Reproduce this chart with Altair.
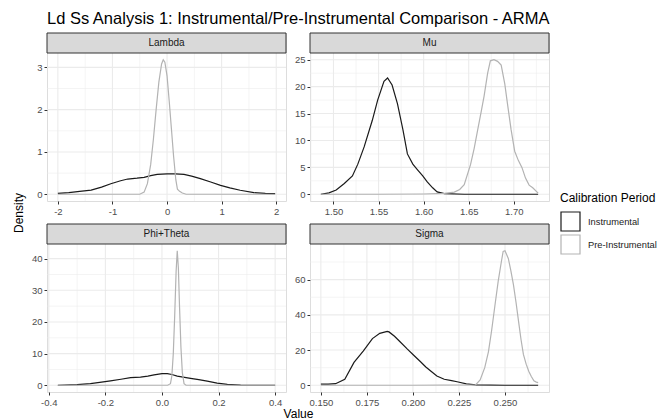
import altair as alt
import pandas as pd

# ---------------- data ----------------
# Lambda
lambda_inst_x = [-2.0, -1.8, -1.6, -1.39, -1.2, -1.03, -0.85, -0.72, -0.55, -0.42, -0.3, -0.18, 0.0, 0.15,
                 0.31, 0.45, 0.61, 0.8, 0.98, 1.15, 1.34, 1.59, 1.8, 1.98]
lambda_inst_y = [0.02, 0.04, 0.07, 0.1, 0.17, 0.25, 0.32, 0.36, 0.38, 0.40, 0.44, 0.47, 0.48, 0.48,
                 0.47, 0.43, 0.37, 0.29, 0.21, 0.15, 0.095, 0.04, 0.02, 0.016]
lambda_pre_x = [-2.0, -1.0, -0.5, -0.42, -0.36, -0.3, -0.25, -0.2, -0.15, -0.1, -0.07, -0.04, 0.0, 0.04,
                0.08, 0.12, 0.16, 0.19, 0.23, 0.28, 0.35, 1.0, 1.98]
lambda_pre_y = [0, 0, 0, 0.05, 0.25, 0.7, 1.3, 2.0, 2.65, 3.08, 3.18, 3.12, 2.8, 2.2,
                1.55, 0.9, 0.35, 0.12, 0.07, 0.03, 0, 0, 0]

# Mu
mu_inst_x = [1.486, 1.495, 1.503, 1.512, 1.521, 1.527, 1.534, 1.543, 1.549, 1.556, 1.560, 1.565, 1.571,
             1.577, 1.582, 1.588, 1.593, 1.599, 1.604, 1.610, 1.615, 1.623, 1.645, 1.700, 1.727]
mu_inst_y = [0.0, 0.25, 0.8, 2.0, 3.4, 5.6, 8.8, 13.7, 17.5, 21.0, 21.6, 20.3, 16.8,
             12.0, 7.5, 5.6, 4.6, 3.4, 2.3, 1.2, 0.45, 0.12, 0.0, 0.0, 0.0]
mu_pre_x = [1.486, 1.550, 1.600, 1.623, 1.634, 1.640, 1.645, 1.652, 1.656, 1.660, 1.664, 1.667, 1.671,
            1.674, 1.678, 1.682, 1.686, 1.690, 1.693, 1.697, 1.701, 1.705, 1.709, 1.713, 1.717, 1.721, 1.727]
mu_pre_y = [0, 0, 0.05, 0.15, 0.4, 0.9, 1.8, 5.5, 8.5, 12.0, 15.5, 18.2, 22.5,
            24.8, 25.0, 24.7, 24.0, 20.5, 16.8, 12.0, 8.0, 6.3, 5.0, 3.0, 1.7, 1.2, 0.2]

# Phi+Theta
phi_inst_x = [-0.368, -0.30, -0.253, -0.22, -0.182, -0.145, -0.111, -0.076, -0.05, -0.028, 0.0, 0.019,
              0.035, 0.054, 0.08, 0.101, 0.13, 0.160, 0.195, 0.231, 0.278, 0.34, 0.40]
phi_inst_y = [0.0, 0.2, 0.5, 0.9, 1.4, 1.9, 2.4, 2.6, 2.9, 3.3, 3.7, 3.7,
              3.4, 2.9, 2.5, 2.2, 1.8, 1.3, 0.7, 0.3, 0.05, 0.0, 0.0]
phi_pre_x = [-0.368, 0.0, 0.02, 0.03, 0.035, 0.04, 0.045, 0.05, 0.054, 0.058, 0.062, 0.067, 0.072,
             0.078, 0.085, 0.1, 0.4]
phi_pre_y = [0, 0, 0, 0.5, 3, 10, 22, 36, 42.5, 37, 25, 12, 4,
             0.5, 0, 0, 0]

# Sigma
sigma_inst_x = [0.150, 0.154, 0.158, 0.163, 0.168, 0.173, 0.178, 0.182, 0.186, 0.187, 0.190, 0.193,
                0.197, 0.200, 0.204, 0.207, 0.210, 0.213, 0.217, 0.221, 0.224, 0.229, 0.234, 0.250, 0.268]
sigma_inst_y = [0.6, 0.6, 0.9, 3.4, 13.0, 19.4, 26.5, 29.5, 30.6, 30.3, 27.8, 24.7,
                20.5, 17.5, 13.5, 10.4, 7.8, 5.3, 3.4, 2.6, 2.0, 0.8, 0.2, 0.0, 0.0]
sigma_pre_x = [0.150, 0.200, 0.234, 0.2365, 0.239, 0.241, 0.2427, 0.2445, 0.2463, 0.248, 0.249, 0.250,
               0.2518, 0.2532, 0.2546, 0.256, 0.2574, 0.2587, 0.260, 0.2615, 0.2629, 0.2643, 0.2657,
               0.267, 0.268]
sigma_pre_y = [0, 0, 0.2, 3, 10, 19, 30.8, 45, 59, 70, 76, 76.4,
               72, 65, 57, 47, 36, 26, 17.5, 12, 8, 5, 2.5, 1.8, 1.5]

periods = ["Instrumental", "Pre-Instrumental"]

# axis tick values
lambda_xticks = [-2, -1, 0, 1, 2]
lambda_yticks = [0, 1, 2, 3]
mu_xticks = [1.50, 1.55, 1.60, 1.65, 1.70]
mu_yticks = [0, 5, 10, 15, 20, 25]
phi_xticks = [-0.4, -0.2, 0.0, 0.2, 0.4]
phi_yticks = [0, 10, 20, 30, 40]
sigma_xticks = [0.150, 0.175, 0.200, 0.225, 0.250]
sigma_yticks = [0, 20, 40, 60]

# ---------------- build ----------------
W, H, STRIP = 239, 148, 20
GAP_C, GAP_R = 24, 23
FONT = "Liberation Sans"
LINE_COLORS = ["#1a1a1a", "#b3b3b3"]


def midpoints(ticks, lo, hi):
    step = ticks[1] - ticks[0]
    cand = [ticks[0] - step / 2] + [t + step / 2 for t in ticks]
    return [c for c in cand if lo <= c <= hi]


def make_df(ix, iy, px, py):
    rows = [{"x": a, "y": b, "period": periods[0]} for a, b in zip(ix, iy)]
    rows += [{"x": a, "y": b, "period": periods[1]} for a, b in zip(px, py)]
    return pd.DataFrame(rows)


def panel(name, df, xticks, yticks, fmt, xtitle=None, ytitle=None):
    xmin, xmax = df.x.min(), df.x.max()
    pad = 0.05 * (xmax - xmin)
    xdom = [xmin - pad, xmax + pad]
    ymax = df.y.max()
    ydom = [-0.05 * ymax, 1.05 * ymax]
    xs = alt.Scale(domain=xdom, nice=False, zero=False)
    ys = alt.Scale(domain=ydom, nice=False, zero=False, range=[H + STRIP, STRIP])

    xminor = midpoints(xticks, *xdom)
    yminor = midpoints(yticks, *ydom)

    common = dict(grid=False, domain=False, tickColor="#333333", tickSize=3, tickWidth=1,
                  labelColor="#4d4d4d", labelFontSize=9.5, labelFont=FONT, labelPadding=2,
                  titleFont=FONT, titleFontSize=12, titleFontWeight="normal", titleColor="#000000")
    xaxis = dict(common)
    yaxis = dict(common)
    if xtitle:
        xaxis.update(title=xtitle, titleX=W + GAP_C / 2, titlePadding=2)
    else:
        xaxis.update(title=None)
    if ytitle:
        yaxis.update(title=ytitle, titleY=(2 * (H + STRIP) + GAP_R) / 2, titlePadding=11)
    else:
        yaxis.update(title=None)
    x_axis = alt.Axis(values=xticks, format=fmt, labelFlush=False, **xaxis)
    y_axis = alt.Axis(values=yticks, format="d", **yaxis)

    def vrules(vals, w):
        return alt.Chart(pd.DataFrame({"v": vals})).mark_rule(color="#ebebeb", strokeWidth=w).encode(
            x=alt.X("v:Q", scale=xs, axis=x_axis))

    def hrules(vals, w):
        return alt.Chart(pd.DataFrame({"v": vals})).mark_rule(color="#ebebeb", strokeWidth=w).encode(
            y=alt.Y("v:Q", scale=ys, axis=y_axis))

    lines = alt.Chart(df).mark_line(strokeWidth=1.2).encode(
        x=alt.X("x:Q", scale=xs, axis=x_axis),
        y=alt.Y("y:Q", scale=ys, axis=y_axis),
        color=alt.Color("period:N", scale=alt.Scale(domain=periods, range=LINE_COLORS),
                        legend=alt.Legend(title="Calibration Period", orient="none", legendX=513, legendY=160,
                                          symbolType="square", symbolSize=361, symbolStrokeWidth=1.2,
                                          symbolFillColor="white", titleFontSize=12, titleFontWeight="normal",
                                          titleFont=FONT, titleColor="#000000", labelFont=FONT,
                                          labelFontSize=9.3, labelColor="#1a1a1a", rowPadding=-4,
                                          titlePadding=6, labelOffset=7)),
        order="x:Q",
    )

    sdf = pd.DataFrame({"label": [name]})
    strip_bg = alt.Chart(sdf).mark_rect(fill="#d9d9d9", stroke="#333333", strokeWidth=1).encode(
        x=alt.value(0), x2=alt.value(W), y=alt.value(0), y2=alt.value(STRIP))
    strip_tx = alt.Chart(sdf).mark_text(font=FONT, fontSize=10, color="#1a1a1a", baseline="middle").encode(
        text="label:N", x=alt.value(W / 2), y=alt.value(STRIP / 2))

    return alt.layer(vrules(xminor, 0.55), hrules(yminor, 0.55), vrules(xticks, 1.1), hrules(yticks, 1.1),
                     lines, strip_bg, strip_tx).properties(width=W, height=H + STRIP)


p1 = panel("Lambda", make_df(lambda_inst_x, lambda_inst_y, lambda_pre_x, lambda_pre_y),
           lambda_xticks, lambda_yticks, "d", ytitle="Density")
p2 = panel("Mu", make_df(mu_inst_x, mu_inst_y, mu_pre_x, mu_pre_y), mu_xticks, mu_yticks, ".2f")
p3 = panel("Phi+Theta", make_df(phi_inst_x, phi_inst_y, phi_pre_x, phi_pre_y), phi_xticks, phi_yticks, ".1f",
           xtitle="Value")
p4 = panel("Sigma", make_df(sigma_inst_x, sigma_inst_y, sigma_pre_x, sigma_pre_y),
           sigma_xticks, sigma_yticks, ".3f")

chart = alt.concat(p1, p2, p3, p4, columns=2, spacing={"row": GAP_R, "column": GAP_C}, bounds="flush",
                   title=alt.TitleParams("Ld Ss Analysis 1: Instrumental/Pre-Instrumental Comparison - ARMA",
                                         anchor="start", frame="group", fontSize=16.5, font=FONT,
                                         fontWeight="normal", color="#000000", offset=4)
                   ).properties(
    padding={"left": 4, "top": 3, "right": 0, "bottom": 0}
).configure_view(stroke="#333333", strokeWidth=1).configure(
    locale=alt.Locale(number=alt.NumberLocale(decimal=".", thousands=",", grouping=[3],
                                              currency=["$", ""], minus="-"))
)

chart.save("out.html", embed_options={"renderer": "svg", "actions": False})
